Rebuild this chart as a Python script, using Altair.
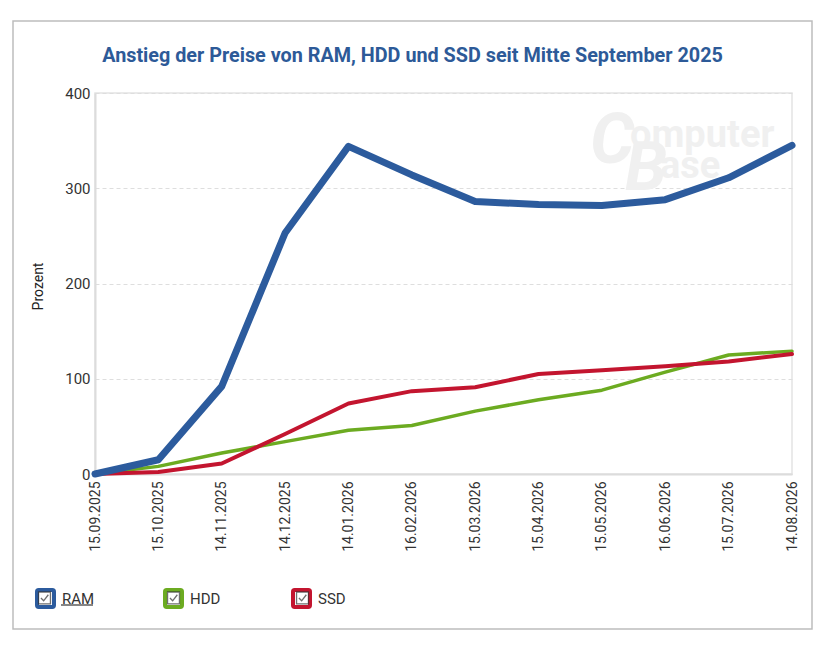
import altair as alt
import pandas as pd

dates = ["15.09.2025", "15.10.2025", "14.11.2025", "14.12.2025", "14.01.2026", "16.02.2026",
         "15.03.2026", "15.04.2026", "15.05.2026", "16.06.2026", "15.07.2026", "14.08.2026"]
ram = [0, 15, 92, 253, 344, 314, 286, 283, 282, 288, 311, 345]
hdd = [0, 8, 22, 34, 46, 51, 66, 78, 88, 107, 125, 129]
ssd = [0, 2, 11, 42, 74, 87, 91, 105, 109, 113, 118, 126]
series = ["RAM", "HDD", "SSD"]
colors = ["#2c5b9d", "#6cab21", "#c3152f"]
widths = {"RAM": 7, "HDD": 3.5, "SSD": 4}
title = "Anstieg der Preise von RAM, HDD und SSD seit Mitte September 2025"

rows = []
for name, vals in zip(series, [ram, hdd, ssd]):
    for d, v in zip(dates, vals):
        rows.append({"Datum": d, "Prozent": v, "Serie": name, "Check": name + "*"})
df = pd.DataFrame(rows)

# checkbox look for the legend: coloured rounded box + dark tick on top
box = ("M-0.8,-1H0.8A0.2,0.2,0,0,1,1,-0.8V0.8A0.2,0.2,0,0,1,0.8,1H-0.8"
       "A0.2,0.2,0,0,1,-1,0.8V-0.8A0.2,0.2,0,0,1,-0.8,-1Z")
tick = "M-0.7,-0.7H0.7V0.7H-0.7Z M-0.42,0L-0.1,0.33L0.45,-0.38"

leg = dict(title=None, orient="none", legendX=-60, legendY=495, direction="horizontal",
           columns=3, gridAlign="all", symbolSize=289,
           labelFontSize=15, labelOffset=6, labelColor="#333", labelFont="Roboto")

x = alt.X("Datum:N", sort=dates, title=None, scale=alt.Scale(padding=0),
          axis=alt.Axis(labelAngle=270, labelAlign="right", labelBaseline="middle",
                        labelPadding=7, ticks=False, grid=False, domainColor="#dcdcdc",
                        domainWidth=2, labelFontSize=14, labelColor="#333"))
y = alt.Y("Prozent:Q", title="Prozent", scale=alt.Scale(domain=[0, 400], nice=False),
          axis=alt.Axis(values=[0, 100, 200, 300, 400], ticks=False, labelPadding=5,
                        gridDash=[4, 3], gridColor="#dedede", domainColor="#dcdcdc",
                        domainWidth=2, labelFontSize=15, labelColor="#333",
                        titleX=-50, titleY=193, titleAngle=270, titleAlign="center",
                        titleBaseline="bottom", titleFontWeight="normal",
                        titleFontSize=14, titleColor="#222"))
color = alt.Color("Serie:N", scale=alt.Scale(domain=series, range=colors),
                  legend=alt.Legend(symbolType=box, symbolStrokeWidth=4, columnPadding=62,
                                    symbolFillColor="white", **leg))

base = alt.Chart(df).encode(x=x, y=y, color=color)
lines = [
    base.transform_filter(alt.datum.Serie == s)
    .mark_line(strokeCap="round", strokeJoin="round")
    .encode(strokeWidth=alt.value(widths[s]))
    for s in ["HDD", "SSD", "RAM"]
]

checks = alt.Chart(df).mark_point(color="#333", size=0).encode(
    x=x, y=y,
    shape=alt.Shape("Check:N", scale=alt.Scale(domain=[s + "*" for s in series], range=[tick] * 3),
                    legend=alt.Legend(symbolStrokeWidth=1.3, symbolStrokeColor="#333",
                                      symbolFillColor="transparent", columnPadding=104,
                                      labelExpr="''", **leg)),
)

one = pd.DataFrame({"f": [0]})
frame = alt.Chart(one).mark_rect(
    fill="white", fillOpacity=0, stroke="#bdbdbd", strokeWidth=1.5
).encode(x=alt.value(-82), x2=alt.value(717), y=alt.value(-72), y2=alt.value(536))

head = alt.Chart(one).mark_text(
    font="Roboto", fontSize=19.8, fontWeight="bold", color="#2d5a98", align="center",
    baseline="alphabetic"
).encode(x=alt.value(317.5), y=alt.value(-31), text=alt.value(title))

# hover underline under the first legend label
underline = alt.Chart(one).mark_rule(color="#333", strokeWidth=1.2).encode(
    x=alt.value(-34), x2=alt.value(-2), y=alt.value(512)
)

# faint ComputerBase watermark
wm = dict(font="Roboto", fontWeight="bold", color="#f0f0f0", align="left", baseline="alphabetic")
logo = [
    alt.Chart(one).mark_text(fontSize=70, fontStyle="italic", **wm)
    .encode(x=alt.value(495), y=alt.value(70), text=alt.value("C")),
    alt.Chart(one).mark_text(fontSize=38, **wm)
    .encode(x=alt.value(535), y=alt.value(54), text=alt.value("omputer")),
    alt.Chart(one).mark_text(fontSize=68, fontStyle="italic", **wm)
    .encode(x=alt.value(530), y=alt.value(97), text=alt.value("B")),
    alt.Chart(one).mark_text(fontSize=38, **wm)
    .encode(x=alt.value(565), y=alt.value(85), text=alt.value("ase")),
]

chart = alt.layer(frame, *logo, head, underline, *lines, checks).properties(
    width=697, height=381,
    autosize=alt.AutoSizeParams(type="none"),
    padding={"left": 87, "top": 85, "right": 22, "bottom": 170},
).configure(font="Roboto").configure_view(stroke="#e3e3e3", strokeWidth=1.5)

chart.save("out.html", embed_options={"renderer": "svg", "actions": False})
